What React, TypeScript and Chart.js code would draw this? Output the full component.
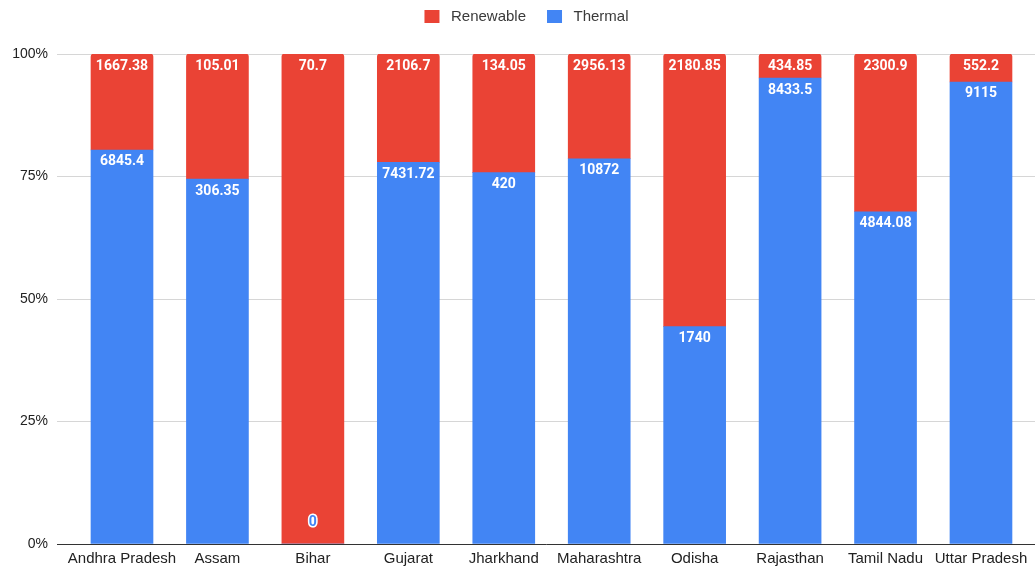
import React, { useEffect, useRef } from "react";
import { Chart, registerables } from "chart.js";

Chart.register(...registerables);

const categories = [
  "Andhra Pradesh",
  "Assam",
  "Bihar",
  "Gujarat",
  "Jharkhand",
  "Maharashtra",
  "Odisha",
  "Rajasthan",
  "Tamil Nadu",
  "Uttar Pradesh",
];
const thermal = [6845.4, 306.35, 0, 7431.72, 420, 10872, 1740, 8433.5, 4844.08, 9115];
const renewable = [1667.38, 105.01, 70.7, 2106.7, 134.05, 2956.13, 2180.85, 434.85, 2300.9, 552.2];
const yTicks = [0, 25, 50, 75, 100];
const legendOrder = ["Renewable", "Thermal"];

const RED = "#EA4335";
const BLUE = "#4285F4";

const totals = categories.map((_, i) => thermal[i] + renewable[i]);
const pct = (arr: number[]) => arr.map((v, i) => ({ x: i, y: (v / totals[i]) * 100 }));

const legendPlugin = {
  id: "customLegend",
  afterDraw(chart: any) {
    const ctx = chart.ctx;
    ctx.save();
    ctx.font = "15px 'Liberation Sans', Arial";
    ctx.textBaseline = "middle";
    ctx.textAlign = "left";
    const boxW = 15;
    const boxH = 13;
    const gapText = 11.5;
    const gapItem = 21;
    const items = legendOrder.map((name) => {
      const ds = chart.data.datasets.find((d: any) => d.label === name);
      return { name, color: ds.backgroundColor, w: ctx.measureText(name).width };
    });
    const total =
      items.reduce((s: number, it: any) => s + boxW + gapText + it.w, 0) + gapItem * (items.length - 1);
    let x = chart.width / 2 + 9 - total / 2;
    const cy = 17;
    items.forEach((it: any) => {
      ctx.fillStyle = it.color;
      ctx.fillRect(x, cy - boxH / 2 - 0.5, boxW, boxH);
      x += boxW + gapText;
      ctx.fillStyle = "#3a3a3a";
      ctx.fillText(it.name, x, cy);
      x += it.w + gapItem;
    });
    ctx.restore();
  },
};

const labelPlugin = {
  id: "segLabels",
  afterDatasetsDraw(chart: any) {
    const ctx = chart.ctx;
    ctx.save();
    ctx.font = "bold 14px Roboto";
    ctx.textAlign = "center";
    ctx.textBaseline = "middle";
    chart.data.datasets.forEach((ds: any, di: number) => {
      const meta = chart.getDatasetMeta(di);
      const raw: number[] = ds.rawValues;
      meta.data.forEach((el: any, i: number) => {
        const v = raw[i];
        const text = String(v);
        if (v === 0) {
          const y = el.base - 22;
          ctx.lineWidth = 3;
          ctx.strokeStyle = "#ffffff";
          ctx.lineJoin = "round";
          ctx.strokeText(text, el.x, y);
          ctx.fillStyle = ds.backgroundColor;
          ctx.fillText(text, el.x, y);
        } else {
          ctx.fillStyle = "#ffffff";
          ctx.fillText(text, el.x, el.y + 12);
        }
      });
    });
    ctx.restore();
  },
};

export default function App() {
  const ref = useRef<HTMLCanvasElement | null>(null);
  useEffect(() => {
    if (!ref.current) return;
    const chart = new Chart(ref.current, {
      type: "bar",
      data: {
        datasets: [
          {
            label: "Thermal",
            data: pct(thermal),
            rawValues: thermal,
            backgroundColor: BLUE,
            borderWidth: 0,
            barThickness: 62,
          } as any,
          {
            label: "Renewable",
            data: pct(renewable),
            rawValues: renewable,
            backgroundColor: RED,
            borderWidth: 0,
            barThickness: 62,
            borderRadius: { topLeft: 3, topRight: 3, bottomLeft: 0, bottomRight: 0 },
            borderSkipped: false,
          } as any,
        ],
      },
      options: {
        responsive: false,
        animation: false,
        layout: { padding: { top: 54, right: 0, left: 0, bottom: 0 } },
        plugins: {
          tooltip: { enabled: false },
          legend: { display: false },
        },
        scales: {
          x: {
            type: "linear",
            stacked: true,
            offset: false,
            min: -0.681,
            max: 9.566,
            afterBuildTicks: (axis: any) => {
              axis.ticks = categories.map((_, i) => ({ value: i }));
            },
            afterFit: (axis: any) => {
              axis.height = 22;
            },
            grid: { display: false, drawTicks: false, offset: false },
            border: { display: true, color: "#333333", width: 1 },
            ticks: {
              autoSkip: false,
              maxRotation: 0,
              padding: 6,
              color: "#222222",
              font: { family: "Liberation Sans, Arial", size: 15 },
              callback: (v: any) => categories[Math.round(Number(v))] ?? "",
            },
          },
          y: {
            stacked: true,
            min: 0,
            max: 100,
            afterBuildTicks: (axis: any) => {
              axis.ticks = yTicks.map((v) => ({ value: v }));
            },
            afterFit: (axis: any) => {
              axis.width = 57;
            },
            grid: { color: "#d6d6d6", drawTicks: false },
            border: { display: false },
            ticks: {
              padding: 9,
              color: "#222222",
              font: { family: "Liberation Sans, Arial", size: 14 },
              callback: (v: any) => v + "%",
            },
          },
        },
      } as any,
      plugins: [labelPlugin, legendPlugin],
    });
    return () => chart.destroy();
  }, []);
  return (
    <div style={{ position: "absolute", left: 0, top: 0, width: 1035, height: 566, background: "#fff" }}>
      <canvas ref={ref} width={1035} height={566} style={{ display: "block" }} />
    </div>
  );
}
